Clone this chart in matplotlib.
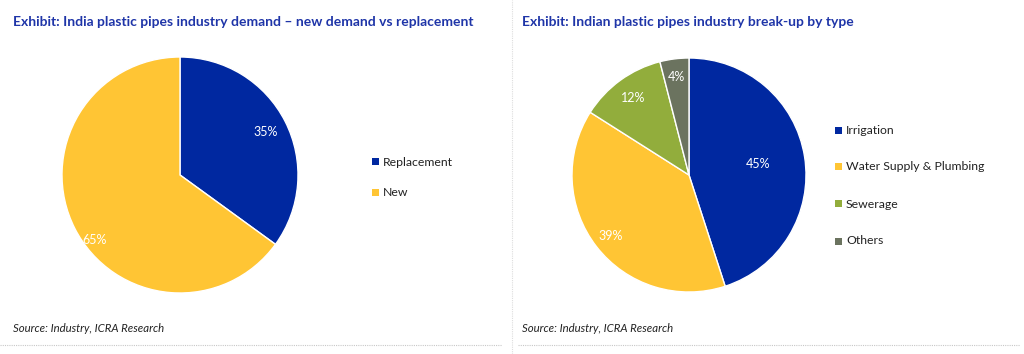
import math
import matplotlib
matplotlib.use("Agg")
import matplotlib.pyplot as plt
from matplotlib.lines import Line2D

W, H = 1024, 354

left_title = "Exhibit: India plastic pipes industry demand \u2013 new demand vs replacement"
left_labels = ["Replacement", "New"]
left_values = [35, 65]
left_colors = ["#0028A0", "#FFC534"]

right_title = "Exhibit: Indian plastic pipes industry break-up by type"
right_labels = ["Irrigation", "Water Supply & Plumbing", "Sewerage", "Others"]
right_values = [45, 39, 12, 4]
right_colors = ["#0028A0", "#FFC534", "#92AD3C", "#6B735F"]

source_text = "Source: Industry, ICRA Research"

plt.rcParams['font.family'] = ['Lato', 'DejaVu Sans']

fig = plt.figure(figsize=(W / 100, H / 100), dpi=100)
fig.patch.set_facecolor("white")

def px_axes(x0, y0, w, h):
    return fig.add_axes([x0 / W, 1 - (y0 + h) / H, w / W, h / H])

def draw_pie(cx, cy, r, values, colors, pctd):
    ax = px_axes(cx - r, cy - r, 2 * r, 2 * r)
    wedges, texts, autotexts = ax.pie(
        values, colors=colors, startangle=90, counterclock=False,
        autopct=lambda p: f"{p:.0f}%", pctdistance=0.82,
        wedgeprops=dict(edgecolor="white", linewidth=1.0),
        textprops=dict(color="white", fontsize=9))
    for t, d in zip(autotexts, pctd):
        x, y = t.get_position()
        rr = math.hypot(x, y)
        t.set_position((x / rr * d[0] + d[1], y / rr * d[0] + d[2]))
        t.set_clip_on(False)
        t.set_zorder(10)
    ax.set_xlim(-1, 1)
    ax.set_ylim(-1, 1)
    ax.set_aspect("equal")
    ax.axis("off")
    return ax

# left pie
draw_pie(180, 175, 118, left_values, left_colors,
         [(0.81, 0.0, 0.0), (0.81, 0.0, -0.18)])
# right pie
draw_pie(689, 175, 117, right_values, right_colors,
         [(0.6, 0.0, 0.0), (0.85, 0.0, 0.0), (0.81, 0.0, 0.0), (0.84, 0.0, 0.0)])

title_color = "#1F35A8"
fig.text(13 / W, 1 - 22 / H, left_title, fontsize=10, fontweight="bold",
         color=title_color, va="center", ha="left")
fig.text(522 / W, 1 - 22 / H, right_title, fontsize=10, fontweight="bold",
         color=title_color, va="center", ha="left")

fig.text(13 / W, 1 - 328 / H, source_text, fontsize=8.2, style="italic",
         color="#222222", va="center", ha="left")
fig.text(522 / W, 1 - 328 / H, source_text, fontsize=8.2, style="italic",
         color="#222222", va="center", ha="left")

def legend_at(x, ys, labels, colors):
    for lab, col, y in zip(labels, colors, ys):
        fig.patches.append(plt.Rectangle((x / W, 1 - (y + 3.5) / H), 7 / W, 7 / H,
                                         transform=fig.transFigure, facecolor=col,
                                         edgecolor="none"))
        fig.text((x + 11) / W, 1 - y / H, lab, fontsize=8.8, color="#222222",
                 va="center", ha="left")

legend_at(372, [162, 192], left_labels, left_colors)
legend_at(835, [130, 166, 204, 241], right_labels, right_colors)

# divider and dotted lines
fig.add_artist(Line2D([512 / W, 512 / W], [0, 1], transform=fig.transFigure,
                      color="#DDDDDD", linewidth=0.8, linestyle=(0, (1, 1))))
fig.add_artist(Line2D([0, 502 / W], [1 - 345 / H] * 2, transform=fig.transFigure,
                      color="#C8C8C8", linewidth=0.8, linestyle=(0, (1, 1))))
fig.add_artist(Line2D([518 / W, 1020 / W], [1 - 345 / H] * 2, transform=fig.transFigure,
                      color="#C8C8C8", linewidth=0.8, linestyle=(0, (1, 1))))

fig.savefig("out.png", dpi=100, facecolor="white")
